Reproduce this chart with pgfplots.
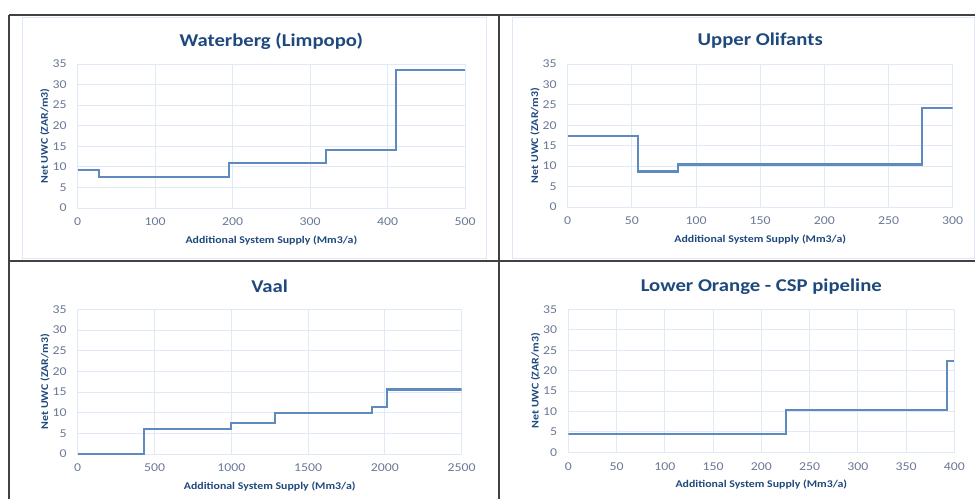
\documentclass[border=0pt]{standalone}
\usepackage{pgfplots}
\pgfplotsset{compat=1.18}
\usepackage{fontspec}
\setmainfont{Carlito}
\newfontfamily\chartfont[FakeStretch=1.15]{Carlito}

\definecolor{titleblue}{RGB}{31,73,125}
\definecolor{tickgray}{RGB}{105,120,150}
\definecolor{gridblue}{RGB}{224,234,247}
\definecolor{seriesblue}{RGB}{95,138,192}
\definecolor{cellrule}{RGB}{65,65,65}
\definecolor{chartframe}{RGB}{222,232,246}

\pgfplotsset{
  uwc/.style={
    anchor=south west,
    scale only axis,
    ymin=0, ymax=35, ytick={0,5,...,35},
    grid=major,
    major grid style={gridblue, line width=0.9pt},
    axis line style={gridblue, line width=0.9pt},
    tick style={draw=none},
    ticklabel style={font=\chartfont\fontsize{12}{12}\selectfont, text=tickgray},
    /pgf/number format/assume math mode=true,
    /pgf/number format/1000 sep={},
    xticklabel style={anchor=center, yshift=-14pt},
    yticklabel style={anchor=east, inner sep=0pt, xshift=-11pt},
    xlabel={Additional System Supply (Mm3/a)},
    ylabel={Net UWC (ZAR/m3)},
    label style={font=\chartfont\bfseries\fontsize{10.3}{10.3}\selectfont, text=titleblue},
    xlabel style={at={(axis description cs:0.5,0)}, anchor=center, yshift=-32pt},
    ylabel style={at={(axis description cs:-0.085,0.5)}, anchor=center},
    title style={font=\chartfont\bfseries\fontsize{18}{18}\selectfont, text=titleblue,
                 at={(axis description cs:0.5,1)}, anchor=center, yshift=17pt},
  },
  step line/.style={const plot, draw=seriesblue, line width=2.1pt, mark=none},
}

\begin{document}
\begin{tikzpicture}[x=1pt, y=1pt]
\path[use as bounding box] (0,0) rectangle (975,499);

% chart area outlines
\draw[chartframe, line width=0.8pt] (22,241) rectangle (486.5,482);
\draw[chartframe, line width=0.8pt] (512,241) rectangle (974,482);

% Waterberg (Limpopo)
\begin{axis}[uwc, at={(77.7pt,291pt)}, width=387.3pt, height=144pt,
  xmin=0, xmax=500, xtick={0,100,...,500},
  title={Waterberg (Limpopo)}]
\addplot[step line] coordinates {(0,9.2) (28,7.6) (195,10.9) (320,14.0) (411,33.6) (500,33.6)};
\end{axis}

% Upper Olifants
\begin{axis}[uwc, at={(567.7pt,292pt)}, width=385pt, height=143pt,
  xmin=0, xmax=300, xtick={0,50,...,300},
  title={Upper Olifants}]
\addplot[step line] coordinates {(0,17.4) (55,8.7) (86,10.4) (276,24.3) (300,24.3)};
\end{axis}

% Vaal
\begin{axis}[uwc, at={(77.7pt,45pt)}, width=384pt, height=144.7pt,
  xmin=0, xmax=2500, xtick={0,500,...,2500},
  title={Vaal}]
\addplot[step line] coordinates {(0,0) (432,6.0) (998,7.6) (1285,9.9) (1916,11.3) (2016,15.6) (2500,15.6)};
\end{axis}

% Lower Orange - CSP pipeline
\begin{axis}[uwc, at={(568.3pt,46.7pt)}, width=386pt, height=143pt,
  xmin=0, xmax=400, xtick={0,50,...,400},
  title={Lower Orange - CSP pipeline}]
\addplot[step line] coordinates {(0,4.5) (226,10.3) (392,22.4) (400,22.4)};
\end{axis}

% table cell rules
\draw[cellrule, line width=1.8pt] (9,484) -- (975,484);
\draw[cellrule, line width=1.8pt] (9,0) -- (9,484);
\draw[cellrule, line width=1.8pt] (499.3,0) -- (499.3,484);
\draw[cellrule, line width=1.8pt] (9,238) -- (975,238);
\end{tikzpicture}
\end{document}
